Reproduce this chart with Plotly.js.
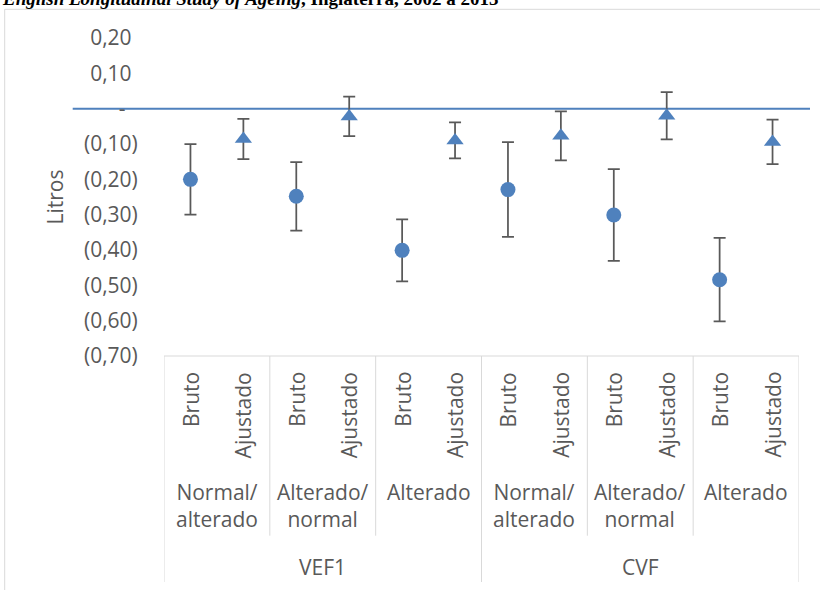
<!DOCTYPE html>
<html>
<head>
<meta charset="utf-8">
<script src="https://cdn.plot.ly/plotly-3.0.1.min.js"></script>
<style>
  html, body { margin: 0; padding: 0; background: #ffffff; }
  #chart { width: 820px; height: 590px; }
</style>
</head>
<body>
<div id="chart"></div>
<script>
// ---- data ----
const measures = ["VEF1", "CVF"];
const groups = ["Normal/<br>alterado", "Alterado/<br>normal", "Alterado"];
const estimates = ["Bruto", "Ajustado"];
const brutoValues = [-0.200, -0.248, -0.401, -0.229, -0.301, -0.484];
const brutoErrors = [0.100, 0.097, 0.088, 0.134, 0.130, 0.118];
const ajustadoValues = [-0.086, -0.022, -0.090, -0.077, -0.020, -0.094];
const ajustadoErrors = [0.057, 0.056, 0.051, 0.069, 0.067, 0.063];
const yTickValues = [0.2, 0.1, 0, -0.1, -0.2, -0.3, -0.4, -0.5, -0.6, -0.7];
const yTickLabels = ["0,20", "0,10", "-", "(0,10)", "(0,20)", "(0,30)", "(0,40)", "(0,50)", "(0,60)", "(0,70)"];
const titleText = "<b><i>English Longitudinal Study of Ageing</i>, Inglaterra, 2002 a 2013</b>";
const yTitle = "Litros";

// ---- layout geometry ----
const W = 820, H = 590;
const M = { l: 164, r: 21, t: 38, b: 234 };
const PW = W - M.l - M.r, PH = H - M.t - M.b;
const px2x = px => (px - M.l) / PW;
const py2y = py => (M.t + PH - py) / PH;

const BLUE = "#4F81BD";
const GRAY_TXT = "#595959";
const GRID = "#D9D9D9";
const FONT = "Open Sans, sans-serif";
const nEst = estimates.length, nGrp = groups.length;
const perMeasure = nEst * nGrp;
const nCat = measures.length * perMeasure;

// category index for (measure, group, estimate)
const idx = (m, g, e) => m * perMeasure + g * nEst + e;

const bx = [], ax = [];
for (let m = 0; m < measures.length; m++)
  for (let g = 0; g < nGrp; g++) { bx.push(idx(m, g, 0)); ax.push(idx(m, g, 1)); }

const invisible = s => `<span style="color:rgba(0,0,0,0)">${s}</span>`;
const tickText = yTickLabels.map((t, i) =>
  yTickValues[i] > 0 ? t + invisible(")") : (yTickValues[i] === 0 ? t + invisible("))") : t));

const errStyle = (arr) => ({ type: "data", array: arr, visible: true, color: GRAY_TXT, thickness: 1.75, width: 6 });

const traces = [
  { x: bx, y: brutoValues, type: "scatter", mode: "markers", name: estimates[0],
    marker: { symbol: "circle", size: 15, color: BLUE }, error_y: errStyle(brutoErrors),
    showlegend: false, hoverinfo: "y" },
  { x: ax, y: ajustadoValues, type: "scatter", mode: "markers", name: estimates[1],
    marker: { symbol: "triangle-up", size: 15, color: BLUE }, error_y: errStyle(ajustadoErrors),
    showlegend: false, hoverinfo: "y" }
];

const annotations = [];
const shapes = [];
const txtFont = { family: FONT, size: 21, color: GRAY_TXT };

// level 1: estimate labels (rotated)
for (let i = 0; i < nCat; i++) {
  annotations.push({ xref: "x", yref: "paper", x: i, y: 0, yshift: -14,
    text: estimates[i % nEst], textangle: -90, xanchor: "center", yanchor: "top",
    showarrow: false, font: txtFont });
}
// level 2: group labels
for (let m = 0; m < measures.length; m++)
  for (let g = 0; g < nGrp; g++) {
    annotations.push({ xref: "x", yref: "paper", x: idx(m, g, 0) + (nEst - 1) / 2, y: 0, yshift: -120,
      text: groups[g], xanchor: "center", yanchor: "top", align: "center",
      showarrow: false, font: txtFont });
  }
// level 3: measure labels
for (let m = 0; m < measures.length; m++) {
  annotations.push({ xref: "x", yref: "paper", x: idx(m, 0, 0) + (perMeasure - 1) / 2, y: 0, yshift: -211,
    text: measures[m], xanchor: "center", yanchor: "middle",
    showarrow: false, font: txtFont });
}
// clipped title at the very top (cut off in the reference as well)
annotations.push({ xref: "paper", yref: "paper", x: px2x(0), y: py2y(-1.5), xanchor: "left", yanchor: "middle",
  text: titleText, showarrow: false, font: { family: "Liberation Serif, serif", size: 19, color: "#000000" } });

// table lines
shapes.push({ type: "line", xref: "paper", yref: "paper", x0: 0, x1: 1, y0: 0, y1: 0,
  line: { color: GRID, width: 1 } });
for (let k = 0; k <= measures.length * nGrp; k++) {
  const xb = k * nEst - 0.5;
  const outer = (k % nGrp === 0);
  shapes.push({ type: "line", xref: "x", yref: "paper", x0: xb, x1: xb, y0: 0,
    y1: outer ? py2y(582) : py2y(535.7), line: { color: GRID, width: 1 } });
}
// chart outer border (left and top visible)
shapes.push({ type: "line", xref: "paper", yref: "paper", x0: px2x(4.7), x1: px2x(4.7), y0: py2y(9.3), y1: py2y(620),
  line: { color: GRID, width: 1 } });
shapes.push({ type: "line", xref: "paper", yref: "paper", x0: px2x(4.7), x1: px2x(840), y0: py2y(9.3), y1: py2y(9.3),
  line: { color: GRID, width: 1 } });
// zero axis line in blue
shapes.push({ type: "line", xref: "paper", yref: "y", x0: px2x(72.7), x1: px2x(810), y0: 0, y1: 0,
  line: { color: BLUE, width: 2 }, layer: "below" });

const layout = {
  width: W, height: H,
  margin: M,
  paper_bgcolor: "#ffffff", plot_bgcolor: "rgba(0,0,0,0)",
  font: { family: FONT, color: GRAY_TXT },
  showlegend: false,
  xaxis: { range: [-0.5, nCat - 0.5], showgrid: false, zeroline: false, showline: false,
    showticklabels: false, ticks: "", fixedrange: true },
  yaxis: { range: [-0.7, 0.2], tickvals: yTickValues, ticktext: tickText,
    showgrid: false, zeroline: false, showline: false,
    ticks: "outside", ticklen: 21, tickcolor: "rgba(0,0,0,0)",
    tickfont: { family: FONT, size: 21, color: GRAY_TXT },
    title: { text: yTitle, font: { family: FONT, size: 21, color: GRAY_TXT }, standoff: 14 },
    fixedrange: true },
  annotations: annotations,
  shapes: shapes
};

Plotly.newPlot("chart", traces, layout, { displayModeBar: false, staticPlot: true });
</script>
</body>
</html>
